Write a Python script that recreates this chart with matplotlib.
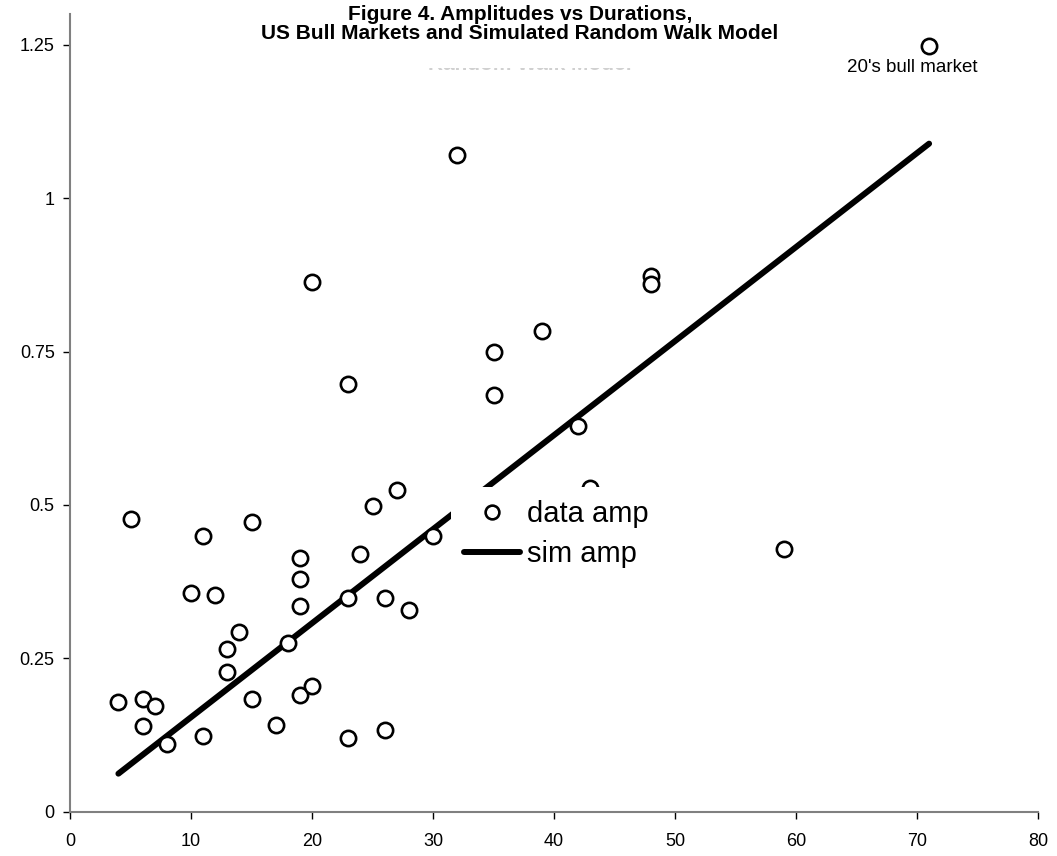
import matplotlib
matplotlib.use('Agg')
import matplotlib.pyplot as plt
from matplotlib.patches import Rectangle

plt.rcParams['font.family'] = ['Liberation Sans', 'DejaVu Sans']

# bull market durations (x) and amplitudes (y)
dur = [4, 5, 6, 6, 7, 8, 10, 11, 11, 12, 13, 13, 14, 15, 15, 17, 18, 19, 19, 19, 19,
       20, 20, 23, 23, 23, 24, 25, 26, 26, 27, 28, 30, 32, 35, 35, 39, 42, 43, 48, 48, 59, 71]
amp = [0.179, 0.477, 0.184, 0.139, 0.172, 0.110, 0.357, 0.450, 0.124, 0.353, 0.266, 0.228,
       0.293, 0.473, 0.183, 0.141, 0.275, 0.414, 0.379, 0.336, 0.190, 0.863, 0.205, 0.697,
       0.349, 0.120, 0.420, 0.499, 0.348, 0.133, 0.525, 0.329, 0.449, 1.071, 0.750, 0.680,
       0.784, 0.629, 0.528, 0.874, 0.861, 0.429, 1.248]

# simulated random walk model line
sim_dur = [4, 71]
sim_amp = [0.062, 1.089]

xticks = [0, 10, 20, 30, 40, 50, 60, 70, 80]
yticks = [0, 0.25, 0.5, 0.75, 1, 1.25]
ylabels = ['0', '0.25', '0.5', '0.75', '1', '1.25']

W, H = 1057, 856
fig = plt.figure(figsize=(W / 100, H / 100), dpi=100)
ax = fig.add_axes([70 / W, 1 - 811.7 / H, (1038 - 70) / W, (811.7 - 14.2) / H])

ax.plot(dur, amp, linestyle='none', marker='o', markersize=11, markerfacecolor='white',
        markeredgecolor='black', markeredgewidth=1.9, label='data amp', zorder=3)
ax.plot(sim_dur, sim_amp, color='black', linewidth=4.3, solid_capstyle='round',
        label='sim amp', zorder=2)

ax.set_xlim(0, 80)
ax.set_ylim(0, 1.3)
ax.set_xticks(xticks)
ax.set_yticks(yticks)
ax.set_yticklabels(ylabels)
ax.tick_params(axis='both', direction='out', length=5, width=1, color='black',
               labelsize=13, pad=6)
ax.tick_params(axis='x', pad=10)

for s in ['top', 'right']:
    ax.spines[s].set_visible(False)
for s in ['left', 'bottom']:
    ax.spines[s].set_color('#808080')
    ax.spines[s].set_linewidth(1.5)

ax.text(69.6, 1.213, "20's bull market", ha='center', va='center', fontsize=13.5)

leg = ax.legend(loc='upper left', bbox_to_anchor=(451 / W, 1 - 487 / H),
                bbox_transform=fig.transFigure, fontsize=21, frameon=True,
                fancybox=False, edgecolor='none', facecolor='white', framealpha=1,
                borderpad=0.45, borderaxespad=0, handlelength=1.9, handletextpad=0.25,
                labelspacing=0.4, markerscale=0.9)

# faint leftover text under the title
fig.text(530 / W, 1 - 64 / H, 'Random Walk Model', ha='center', va='center',
         fontsize=15, fontweight='bold', color='#d0d0d0', zorder=1)
fig.patches.append(Rectangle((420 / W, 1 - 68 / H), 260 / W, 30 / H,
                             transform=fig.transFigure, facecolor='white',
                             edgecolor='none', zorder=2))
fig.text(520 / W, 1 - 24 / H,
         'Figure 4. Amplitudes vs Durations,\nUS Bull Markets and Simulated Random Walk Model',
         ha='center', va='center', fontsize=15, fontweight='bold', linespacing=1.05, zorder=3)

fig.savefig('out.png', dpi=100)
